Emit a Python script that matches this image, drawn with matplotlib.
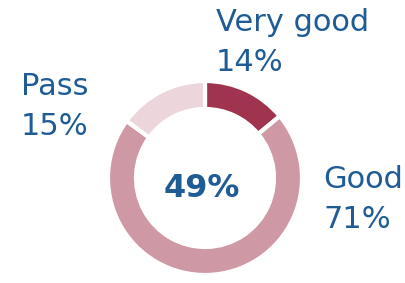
import matplotlib
matplotlib.use("Agg")
import matplotlib.pyplot as plt

labels = ["Very good", "Good", "Pass"]
shares = [14, 71, 15]
colors = ["#A0344F", "#CF98A5", "#EDD6DB"]
center_value = "49%"
text_color = "#1F5C96"

W, H = 405, 283
fig = plt.figure(figsize=(W / 100, H / 100), dpi=100)
ax = fig.add_axes([0, 0, 1, 1])

cx, cy, r = 205, H - 178, 97
ax.pie(shares, colors=colors, startangle=90, counterclock=False,
       center=(cx, cy), radius=r, frame=True,
       wedgeprops=dict(width=28, edgecolor="white", linewidth=3))
ax.set_xlim(0, W)
ax.set_ylim(0, H)
ax.set_aspect("equal")
ax.axis("off")

ax.text(cx - 3, H - 197, center_value, ha="center", va="baseline",
        fontsize=23, fontweight="bold", color=text_color)

# label positions (x, baseline y from top)
label_pos = [(216, 31), (323, 188), (21, 95)]
for lab, s, (x, y) in zip(labels, shares, label_pos):
    ax.text(x, H - y, lab, ha="left", va="baseline", fontsize=22, color=text_color)
    ax.text(x, H - y - 40, f"{s}%", ha="left", va="baseline", fontsize=22, color=text_color)

fig.savefig("out.png", dpi=100)
